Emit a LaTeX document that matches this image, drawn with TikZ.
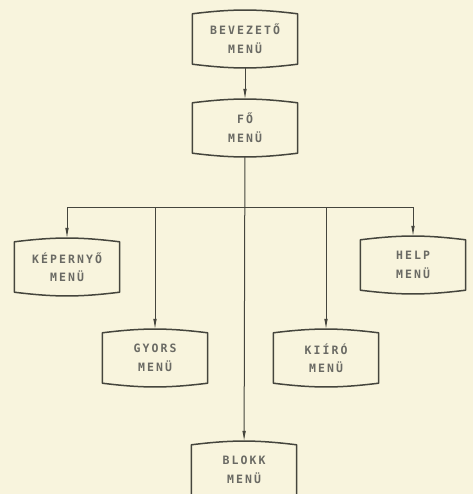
\documentclass[tikz,border=0pt]{standalone}
\usepackage{fontspec}
\newfontfamily\menufont[LetterSpace=18]{DejaVu Sans Mono Bold}
\usetikzlibrary{arrows.meta}
\definecolor{paper}{HTML}{F8F4DD}
\definecolor{ink}{HTML}{45453D}
\tikzset{
	menu/.style={minimum width=105pt, minimum height=56pt, inner sep=0pt, align=center,
		text=ink!80, font=\menufont\fontsize{11.5}{18.5}\selectfont},
	boxline/.style={draw=ink, line width=1.5pt, line join=round},
	link/.style={draw=ink, line width=1pt},
	arr/.style={link, -{Latex[length=11pt,width=3.6pt]}},
}

\begin{document}
\begin{tikzpicture}[x=1pt,y=1pt]
	\fill[paper] (0,0) rectangle (473,-494);
	\useasboundingbox (0,0) rectangle (473,-494);
	% menus
	\node[menu] (bev) at (245,-39) {BEVEZETŐ\\MENÜ};
	\node[menu] (fo) at (245,-128) {FŐ\\MENÜ};
	\node[menu] (kep) at (67,-267) {KÉPERNYŐ\\MENÜ};
	\node[menu] (help) at (413,-265) {HELP\\MENÜ};
	\node[menu] (gyors) at (155,-358) {GYORS\\MENÜ};
	\node[menu] (kiiro) at (326,-358) {KIÍRÓ\\MENÜ};
	\node[menu] (blokk) at (244,-470) {BLOKK\\MENÜ};
	% box outlines, top and bottom slightly curved
	\foreach \n in {bev,fo,kep,help,gyors,kiiro,blokk}
		\draw[boxline] ([yshift=-3pt]\n.north west) to[bend left=7] ([yshift=-3pt]\n.north east)
			-- ([yshift=3pt]\n.south east) to[bend left=7] ([yshift=3pt]\n.south west) -- cycle;
	% connectors
	\coordinate (hl) at (67,-207);
	\coordinate (hr) at (413,-207);
	\draw[link] (hl) -- (hr);
	\draw[arr] (bev) -- (fo);
	\draw[arr] (fo) -- (blokk);
	\draw[arr] (hl) -- (kep);
	\draw[arr] (hr) -- (help);
	\draw[arr] (gyors.north |- hl) -- (gyors);
	\draw[arr] (kiiro.north |- hl) -- (kiiro);
\end{tikzpicture}
\end{document}
